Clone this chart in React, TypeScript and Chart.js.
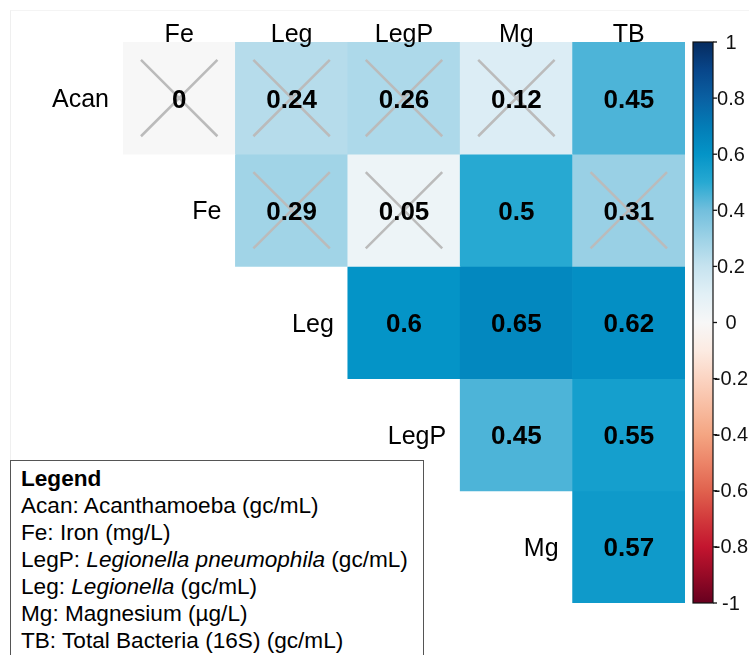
import React, { useEffect, useRef } from 'react';
import { Chart, registerables } from 'chart.js';

Chart.register(...registerables);

// ---- data ----
const columnLabels = ['Fe', 'Leg', 'LegP', 'Mg', 'TB'];
const rowLabels = ['Acan', 'Fe', 'Leg', 'LegP', 'Mg'];

const acanRow = [0, 0.24, 0.26, 0.12, 0.45];
const feRow = [null, 0.29, 0.05, 0.5, 0.31];
const legRow = [null, null, 0.6, 0.65, 0.62];
const legPRow = [null, null, null, 0.45, 0.55];
const mgRow = [null, null, null, null, 0.57];

// non-significant correlations (drawn with a cross)
const acanCrossed = [true, true, true, true, false];
const feCrossed = [false, true, true, false, true];
const legCrossed = [false, false, false, false, false];
const legPCrossed = [false, false, false, false, false];
const mgCrossed = [false, false, false, false, false];

const colorbarTicks = [1, 0.8, 0.6, 0.4, 0.2, 0, -0.2, -0.4, -0.6, -0.8, -1];
const colorbarTickLabels = ['1', '0.8', '0.6', '0.4', '0.2', '0', '-0.2', '-0.4', '-0.6', '-0.8', '-1'];

// palette (RdBu-like)
const paletteValues = [-1, -0.9, -0.8, -0.7, -0.6, -0.5, -0.4, -0.3, -0.2, -0.1, 0, 0.1, 0.2, 0.3, 0.4, 0.5, 0.6, 0.7, 0.8, 0.9, 1];
const paletteColors = [
  '#67001F', '#970A26', '#C3152F', '#D23A3C', '#E0624E', '#EC8468', '#F4A582', '#F8BDA2', '#FBD4C2', '#FCEBE2',
  '#F7F7F7',
  '#E2F0F6', '#C6E3EF', '#9DD2E6', '#72BFDD', '#27A9D2', '#0494C7', '#037CB6', '#0A60A2', '#08468A', '#062B5F',
];

const rowValues = [acanRow, feRow, legRow, legPRow, mgRow];
const rowCrossed = [acanCrossed, feCrossed, legCrossed, legPCrossed, mgCrossed];

const FONT = "'Liberation Sans', Arial, Helvetica, sans-serif";

function hexToRgb(h: string) {
  const n = parseInt(h.slice(1), 16);
  return [(n >> 16) & 255, (n >> 8) & 255, n & 255];
}

function valueToColor(v: number) {
  if (v <= paletteValues[0]) return paletteColors[0];
  for (let i = 0; i < paletteValues.length - 1; i++) {
    const a = paletteValues[i], b = paletteValues[i + 1];
    if (v >= a && v <= b) {
      const t = (v - a) / (b - a);
      const ca = hexToRgb(paletteColors[i]);
      const cb = hexToRgb(paletteColors[i + 1]);
      const c = ca.map((x, k) => Math.round(x + (cb[k] - x) * t));
      return `rgb(${c[0]},${c[1]},${c[2]})`;
    }
  }
  return paletteColors[paletteColors.length - 1];
}

const decorPlugin = {
  id: 'corrDecor',
  afterDatasetsDraw(chart: any) {
    const ctx = chart.ctx as CanvasRenderingContext2D;
    const area = chart.chartArea;
    const xs = chart.scales.x;
    const cb = chart.scales.cb;
    ctx.save();

    rowValues.forEach((vals, r) => {
      const meta = chart.getDatasetMeta(r);
      let firstLeft: number | null = null;
      let rowCenter = 0;
      vals.forEach((v, c) => {
        if (v === null) return;
        const el = meta.data[c];
        const p = el.getProps(['x', 'y', 'base', 'width'], true);
        const top = Math.min(p.y, p.base);
        const bottom = Math.max(p.y, p.base);
        const cy = (top + bottom) / 2;
        const h = bottom - top;
        const w = p.width;
        if (firstLeft === null) {
          firstLeft = p.x - w / 2;
          rowCenter = cy;
        }
        if (rowCrossed[r][c]) {
          const dx = w * 0.34, dy = h * 0.34;
          ctx.strokeStyle = '#BBBBBB';
          ctx.lineWidth = 2.5;
          ctx.beginPath();
          ctx.moveTo(p.x - dx, cy - dy);
          ctx.lineTo(p.x + dx, cy + dy);
          ctx.moveTo(p.x + dx, cy - dy);
          ctx.lineTo(p.x - dx, cy + dy);
          ctx.stroke();
        }
        ctx.fillStyle = '#000';
        ctx.font = `bold 26px ${FONT}`;
        ctx.textAlign = 'center';
        ctx.textBaseline = 'alphabetic';
        ctx.fillText(String(v), p.x, cy + 9.5);
      });
      if (firstLeft !== null) {
        ctx.fillStyle = '#000';
        ctx.font = `25px ${FONT}`;
        ctx.textAlign = 'right';
        ctx.textBaseline = 'alphabetic';
        ctx.fillText(rowLabels[r], firstLeft - 14, rowCenter + 9);
      }
    });

    // column labels
    ctx.fillStyle = '#000';
    ctx.font = `25px ${FONT}`;
    ctx.textAlign = 'center';
    ctx.textBaseline = 'alphabetic';
    columnLabels.forEach((lab, c) => {
      ctx.fillText(lab, xs.getPixelForValue(c), area.top - 0.5);
    });

    // colour bar
    const barLeft = area.right + 8;
    const barWidth = 20;
    const barTop = cb.getPixelForValue(1);
    const barBottom = cb.getPixelForValue(-1);
    const grad = ctx.createLinearGradient(0, barTop, 0, barBottom);
    paletteValues.forEach((v, i) => {
      const y = cb.getPixelForValue(v);
      grad.addColorStop(Math.min(1, Math.max(0, (y - barTop) / (barBottom - barTop))), paletteColors[i]);
    });
    ctx.fillStyle = grad;
    ctx.fillRect(barLeft, barTop, barWidth, barBottom - barTop);
    ctx.strokeStyle = '#111';
    ctx.lineWidth = 1.2;
    ctx.strokeRect(barLeft, barTop, barWidth, barBottom - barTop);

    ctx.font = `20px ${FONT}`;
    ctx.textAlign = 'center';
    ctx.textBaseline = 'middle';
    ctx.lineWidth = 1.3;
    colorbarTicks.forEach((t, i) => {
      const y = cb.getPixelForValue(t);
      ctx.beginPath();
      ctx.moveTo(barLeft + barWidth, y);
      ctx.lineTo(barLeft + barWidth + 4, y);
      ctx.stroke();
      ctx.fillStyle = '#111';
      ctx.fillText(colorbarTickLabels[i], barLeft + barWidth + 18, y + 1);
    });

    ctx.restore();
  },
};

function LegendBox() {
  const line: React.CSSProperties = { whiteSpace: 'nowrap' };
  return (
    <div
      style={{
        position: 'absolute',
        left: 10,
        top: 460,
        width: 414,
        height: 230,
        border: '1.5px solid #555',
        boxSizing: 'border-box',
        background: '#fff',
        padding: '4px 0 0 10px',
        font: `22.6px ${FONT}`,
        lineHeight: '27px',
        color: '#000',
      }}
    >
      <div style={{ ...line, fontWeight: 'bold' }}>Legend</div>
      <div style={line}>Acan: Acanthamoeba (gc/mL)</div>
      <div style={line}>Fe: Iron (mg/L)</div>
      <div style={line}>LegP: <i>Legionella pneumophila</i> (gc/mL)</div>
      <div style={line}>Leg: <i>Legionella</i> (gc/mL)</div>
      <div style={line}>Mg: Magnesium (µg/L)</div>
      <div style={line}>TB: Total Bacteria (16S) (gc/mL)</div>
    </div>
  );
}

export default function App() {
  const canvasRef = useRef<HTMLCanvasElement | null>(null);

  useEffect(() => {
    if (!canvasRef.current) return;
    const datasets = rowValues.map((vals, r) => ({
      label: rowLabels[r],
      data: vals.map((v) => (v === null ? null : [r, r + 1])),
      backgroundColor: vals.map((v) => (v === null ? 'rgba(0,0,0,0)' : valueToColor(v))),
      borderWidth: 0,
      grouped: false,
      categoryPercentage: 1,
      barPercentage: 1,
    }));
    const chart = new Chart(canvasRef.current, {
      type: 'bar',
      data: { labels: columnLabels, datasets: datasets as any },
      plugins: [decorPlugin],
      options: {
        responsive: false,
        animation: false,
        layout: { padding: { left: 123, right: 64, top: 42, bottom: 52 } },
        plugins: { legend: { display: false }, tooltip: { enabled: false } },
        scales: {
          x: { type: 'category', display: false, offset: true },
          y: { type: 'linear', display: false, min: 0, max: 5, reverse: true },
          cb: { type: 'linear', display: false, position: 'right', min: -1, max: 1 },
        },
      },
    });
    return () => chart.destroy();
  }, []);

  return (
    <div
      style={{
        position: 'fixed',
        left: 0,
        top: 0,
        width: 749,
        height: 655,
        overflow: 'hidden',
        background: '#fff',
      }}
    >
      <div
        style={{
          position: 'absolute',
          left: 10,
          top: 10,
          width: 760,
          height: 700,
          borderLeft: '1px solid #EFEFEF',
          borderTop: '1px solid #F4F4F4',
        }}
      />
      <canvas ref={canvasRef} width={749} height={655} style={{ position: 'absolute', left: 0, top: 0 }} />
      <LegendBox />
    </div>
  );
}
